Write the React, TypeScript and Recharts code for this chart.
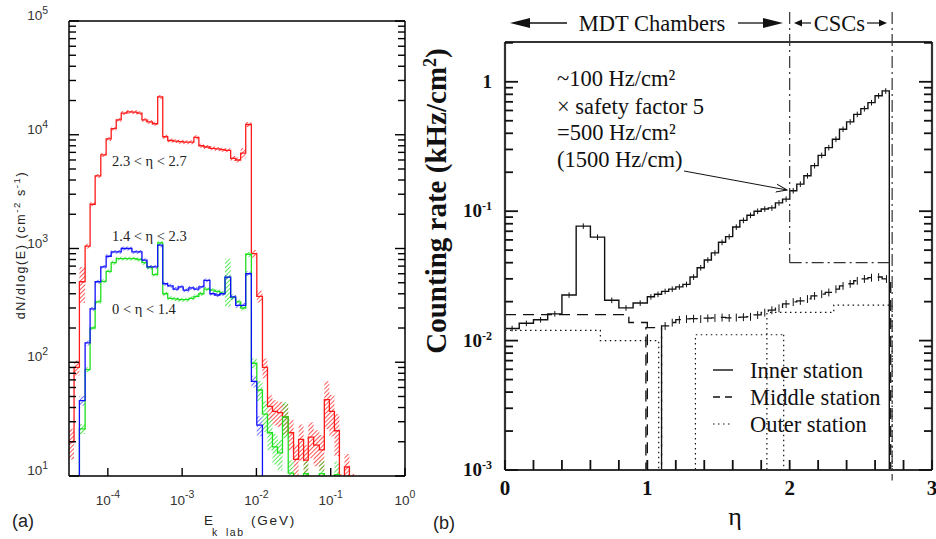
import React from 'react';
import { ComposedChart, Line, Area, XAxis, YAxis, ReferenceLine, ErrorBar } from 'recharts';

// ---------- panel (a): energy spectra, bins in log10(E / GeV) ----------
const logEnergyEdges = [
  -4.523, -4.455, -4.383, -4.306, -4.239, -4.171, -4.095, -4.023, -3.955, -3.887,
  -3.82, -3.743, -3.676, -3.608, -3.541, -3.473, -3.401, -3.329, -3.261, -3.194,
  -3.122, -3.054, -2.986, -2.91, -2.842, -2.775, -2.707, -2.626, -2.559, -2.491,
  -2.423, -2.347, -2.279, -2.212, -2.144, -2.068, -1.995, -1.919, -1.851, -1.784,
  -1.716, -1.649, -1.572, -1.5, -1.432, -1.365, -1.302, -1.23, -1.153, -1.086,
  -1.018, -0.95, -0.883, -0.815, -0.748, -0.68,
];

// 2.3 < eta < 2.7 (red)
const fluxHigh = [
  20, 90, 510, 1050, 2450, 4350, 6650, 9200, 11300, 13500,
  15500, 15900, 15800, 15500, 13500, 13000, 12500, 21500, 9600, 8900,
  8800, 8700, 8600, 8600, 9500, 8000, 7800, 7600, 7500, 7400,
  7300, 6200, 6000, 6900, 12300, 900, 380, 90, 41, 37,
  36, 33, 24, 14, 21, 13.8, 22, 18.7, 17, 47,
  37, 25, 8, 12, 8,
];
const errHigh = [
  0.3, 0.15, 0.35, 0.05, 0.04, 0.04, 0.04, 0.04, 0.04, 0.04,
  0.04, 0.04, 0.04, 0.04, 0.04, 0.04, 0.04, 0.04, 0.04, 0.04,
  0.04, 0.04, 0.04, 0.04, 0.04, 0.04, 0.04, 0.04, 0.04, 0.04,
  0.04, 0.05, 0.05, 0.1, 0.05, 0.08, 0.12, 0.2, 0.25, 0.25,
  0.25, 0.3, 0.3, 0.35, 0.35, 0.35, 0.35, 0.35, 0.35, 0.45,
  0.4, 0.4, 0.3, 0.3, 0.3,
];

// 1.4 < eta < 2.3 (blue)
const fluxMid = [
  1, 1, 46, 148, 295, 510, 690, 855, 935, 935,
  1000, 1000, 935, 935, 790, 690, 690, 1070, 490, 470,
  440, 460, 430, 450, 440, 460, 525, 400, 390, 400,
  560, 375, 316, 316, 600, 68, 28, 1, 1, 1,
  1, 1, 1, 1, 1, 1, 1, 1, 1, 1,
  1, 1, 1, 1, 1,
];
const errMid = [
  0, 0, 0.1, 0.05, 0.04, 0.04, 0.04, 0.04, 0.04, 0.04,
  0.04, 0.04, 0.04, 0.04, 0.04, 0.04, 0.04, 0.04, 0.04, 0.04,
  0.04, 0.04, 0.04, 0.04, 0.04, 0.04, 0.04, 0.04, 0.04, 0.04,
  0.04, 0.05, 0.05, 0.05, 0.05, 0.12, 0.2, 0, 0, 0,
  0, 0, 0, 0, 0, 0, 0, 0, 0, 0,
  0, 0, 0, 0, 0,
];

// 0 < eta < 1.4 (green)
const fluxLow = [
  1, 1, 26, 86, 200, 340, 515, 630, 750, 815,
  815, 815, 815, 800, 750, 680, 590, 1120, 400, 365,
  360, 355, 355, 365, 380, 400, 440, 430, 420, 405,
  560, 370, 340, 300, 890, 98, 57, 35, 24, 18,
  16, 33, 10.6, 7, 7, 10.5, 7, 7, 10.5, 7,
  7, 10.3, 7, 7, 7,
];
const errLow = [
  0, 0, 0.1, 0.05, 0.04, 0.04, 0.04, 0.04, 0.04, 0.04,
  0.04, 0.04, 0.04, 0.04, 0.04, 0.04, 0.04, 0.04, 0.04, 0.04,
  0.04, 0.04, 0.04, 0.04, 0.04, 0.04, 0.04, 0.04, 0.04, 0.04,
  0.45, 0.05, 0.05, 0.05, 0.05, 0.1, 0.2, 0.3, 0.3, 0.3,
  0.3, 0.35, 0.3, 0.3, 0.3, 0.3, 0.3, 0.3, 0.3, 0.3,
  0.3, 0.3, 0.3, 0.3, 0.3,
];

const energyTicks = [1e-4, 1e-3, 1e-2, 1e-1, 1];
const fluxTicks = [
  10, 20, 30, 40, 50, 60, 70, 80, 90,
  100, 200, 300, 400, 500, 600, 700, 800, 900,
  1000, 2000, 3000, 4000, 5000, 6000, 7000, 8000, 9000,
  10000, 20000, 30000, 40000, 50000, 60000, 70000, 80000, 90000, 100000,
];

// ---------- panel (b): counting rate vs eta ----------
const innerEdges = [
  0, 0.1, 0.2, 0.3, 0.4, 0.5, 0.6, 0.7, 0.8, 0.9, 1.0, 1.05, 1.1, 1.15, 1.2, 1.25,
  1.3, 1.35, 1.4, 1.45, 1.5, 1.55, 1.6, 1.65, 1.7, 1.75, 1.8, 1.85, 1.9, 1.95, 2.0,
  2.05, 2.1, 2.15, 2.2, 2.25, 2.3, 2.35, 2.4, 2.45, 2.5, 2.55, 2.6, 2.65, 2.7,
];
const innerRate = [
  0.0124, 0.0136, 0.0145, 0.0161, 0.0225, 0.0767, 0.063, 0.0205, 0.0179, 0.0195,
  0.0218, 0.0228, 0.024, 0.025, 0.026, 0.0272, 0.031, 0.0366, 0.042, 0.0476,
  0.0575, 0.0636, 0.0754, 0.085, 0.093, 0.1, 0.104, 0.106, 0.116, 0.124,
  0.144, 0.162, 0.188, 0.225, 0.27, 0.31, 0.36, 0.43, 0.49, 0.56,
  0.62, 0.69, 0.78, 0.85,
];

const middleEdgesA = [0, 0.87, 1.0];
const middleRateA = [0.0159, 0.0138];
const middleEdgesC = [0.99, 1.1];
const middleRateC = [0.0126];
const middleEdgesB = [
  1.1, 1.15, 1.2, 1.25, 1.3, 1.35, 1.4, 1.45, 1.5, 1.55, 1.6, 1.65, 1.7, 1.75, 1.8,
  1.85, 1.9, 1.95, 2.0, 2.05, 2.1, 2.15, 2.2, 2.25, 2.3, 2.35, 2.4, 2.45, 2.5, 2.55,
  2.6, 2.65, 2.71,
];
const middleRateB = [
  0.013, 0.0138, 0.0145, 0.0147, 0.0148, 0.0147, 0.0149, 0.015, 0.0151, 0.015,
  0.0151, 0.0152, 0.0153, 0.0158, 0.0165, 0.0172, 0.0178, 0.0192, 0.0199, 0.0203,
  0.021, 0.0222, 0.0229, 0.0236, 0.025, 0.0265, 0.0275, 0.029, 0.03, 0.0307,
  0.031, 0.03,
];
// statistical error bars drawn at bin centres (relative half-height)
const statErrInner = 0.05;
const statErrMiddle = 0.07;

const outerEdgesA = [0, 0.67, 1.08];
const outerRateA = [0.012, 0.01];
const outerEdgesB = [1.338, 1.958];
const outerRateB = [0.0111];
const outerEdgesC = [1.84, 2.31, 2.72];
const outerRateC = [0.0165, 0.0188];

const etaTicks = [0, 0.2, 0.4, 0.6, 0.8, 1, 1.2, 1.4, 1.6, 1.8, 2, 2.2, 2.4, 2.6, 2.8, 3];
const rateTicks = [
  0.001, 0.002, 0.003, 0.004, 0.005, 0.006, 0.007, 0.008, 0.009,
  0.01, 0.02, 0.03, 0.04, 0.05, 0.06, 0.07, 0.08, 0.09,
  0.1, 0.2, 0.3, 0.4, 0.5, 0.6, 0.7, 0.8, 0.9, 1, 2,
];

const RED = '#ff1a1a';
const BLUE = '#1010ff';
const GREEN = '#1fe01f';
const LOW = 1e-4;
const SERIF = '"Liberation Serif", "Times New Roman", serif';
const SANS = '"Liberation Sans", Arial, sans-serif';

const rowsA = logEnergyEdges.map((le, i) => {
  const k = Math.min(i, fluxHigh.length - 1);
  return {
    e: Math.pow(10, le),
    high: fluxHigh[k],
    highBand: [fluxHigh[k] * (1 - errHigh[k]), fluxHigh[k] * (1 + errHigh[k])],
    mid: fluxMid[k],
    midBand: [fluxMid[k] * (1 - errMid[k]), fluxMid[k] * (1 + errMid[k])],
    low: fluxLow[k],
    lowBand: [fluxLow[k] * (1 - errLow[k]), fluxLow[k] * (1 + errLow[k])],
  };
});

type Pt = { x: number; y: number };
function stepPoints(edges: number[], rates: number[], riseFromFloor: boolean): Pt[] {
  const pts: Pt[] = [];
  if (riseFromFloor) pts.push({ x: edges[0], y: LOW });
  edges.forEach((x, i) => pts.push({ x, y: rates[Math.min(i, rates.length - 1)] }));
  pts.push({ x: edges[edges.length - 1], y: LOW });
  return pts;
}
function binCentres(edges: number[], rates: number[], rel: number) {
  return rates.map((r, i) => ({ x: (edges[i] + edges[i + 1]) / 2, y: r, err: r * rel }));
}

const isDecade = (v: number) => {
  const p = Math.log10(v);
  return Math.abs(p - Math.round(p)) < 1e-6;
};

// ----- tick renderers -----
const TickALeft = (props: any) => {
  const { x, y, payload } = props;
  const v = payload.value;
  const major = isDecade(v);
  return (
    <g>
      <line x1={x} x2={x + (major ? 10 : 7)} y1={y} y2={y} stroke="#000" strokeWidth={1.4} />
      {major && (
        <text x={x - 21} y={y - 1} textAnchor="end" fontFamily={SANS} fontSize={13.5} fill="#333">
          10<tspan dy={-6} fontSize={10.5}>{Math.round(Math.log10(v))}</tspan>
        </text>
      )}
    </g>
  );
};
const TickARight = (props: any) => {
  const { x, y, payload } = props;
  const major = isDecade(payload.value);
  return <line x1={x} x2={x - (major ? 10 : 7)} y1={y} y2={y} stroke="#000" strokeWidth={1.4} />;
};
const TickABottom = (props: any) => {
  const { x, y, payload } = props;
  return (
    <g>
      <line x1={x} x2={x} y1={y} y2={y - 8} stroke="#000" strokeWidth={1.4} />
      <text x={x} y={y + 29} textAnchor="middle" fontFamily={SANS} fontSize={13.5} fill="#333">
        10<tspan dy={-7} fontSize={10.5}>{Math.round(Math.log10(payload.value))}</tspan>
      </text>
    </g>
  );
};
const TickATop = (props: any) => {
  const { x, y } = props;
  return <line x1={x} x2={x} y1={y} y2={y + 8} stroke="#000" strokeWidth={1.4} />;
};

const TickBLeft = (props: any) => {
  const { x, y, payload } = props;
  const v = payload.value;
  const major = isDecade(v);
  const e = Math.round(Math.log10(v));
  return (
    <g>
      <line x1={x} x2={x + (major ? 13 : 8)} y1={y} y2={y} stroke="#111" strokeWidth={1.8} />
      {major && (
        <text x={x - 13} y={y + 6} textAnchor="end" fontFamily={SERIF} fontWeight="bold" fontSize={19} fill="#111">
          {e === 0 ? '1' : (
            <>
              10<tspan dy={-7} fontSize={12}>{e}</tspan>
            </>
          )}
        </text>
      )}
    </g>
  );
};
const TickBRight = (props: any) => {
  const { x, y, payload } = props;
  const major = isDecade(payload.value);
  return <line x1={x} x2={x - (major ? 13 : 8)} y1={y} y2={y} stroke="#111" strokeWidth={1.8} />;
};
const TickBBottom = (props: any) => {
  const { x, y, payload } = props;
  const v = payload.value;
  const major = Math.abs(v - Math.round(v)) < 1e-6;
  return (
    <g>
      <line x1={x} x2={x} y1={y} y2={y - 10} stroke="#111" strokeWidth={1.8} />
      {major && (
        <text x={x} y={y + 25} textAnchor="middle" fontFamily={SERIF} fontWeight="bold" fontSize={21} fill="#111">
          {Math.round(v)}
        </text>
      )}
    </g>
  );
};
const TickBTop = (props: any) => {
  const { x, y } = props;
  return <line x1={x} x2={x} y1={y} y2={y + 8} stroke="#111" strokeWidth={1.8} />;
};

const SpectraPanel = () => (
  <ComposedChart width={420} height={539} data={rowsA} margin={{ top: 0, right: 0, bottom: 0, left: 0 }}>
    <XAxis
      dataKey="e" type="number" scale="log" domain={[Math.pow(10, -4.523), 1]} allowDataOverflow
      ticks={energyTicks} interval={0} tickSize={0} tickMargin={0} tickLine={false}
      tick={TickABottom} height={63} axisLine={{ stroke: '#000', strokeWidth: 1.5 }}
    />
    <XAxis
      xAxisId="top" orientation="top" type="number" scale="log" domain={[Math.pow(10, -4.523), 1]} allowDataOverflow
      ticks={energyTicks} interval={0} tickSize={0} tickMargin={0} tickLine={false}
      tick={TickATop} height={21} axisLine={{ stroke: '#000', strokeWidth: 1.5 }}
    />
    <YAxis
      type="number" scale="log" domain={[10, 100000]} allowDataOverflow ticks={fluxTicks} interval={0}
      tickSize={0} tickMargin={0} tickLine={false} tick={TickALeft} width={69}
      axisLine={{ stroke: '#000', strokeWidth: 1.5 }}
    />
    <YAxis
      yAxisId="right" orientation="right" type="number" scale="log" domain={[10, 100000]} allowDataOverflow
      ticks={fluxTicks} interval={0} tickSize={0} tickMargin={0} tickLine={false} tick={TickARight} width={15}
      axisLine={{ stroke: '#000', strokeWidth: 1.5 }}
    />
    <Area dataKey="highBand" type="stepAfter" stroke="none" fill="url(#hatchRed)" fillOpacity={1} isAnimationActive={false} dot={false} activeDot={false} />
    <Line dataKey="high" type="stepAfter" stroke={RED} strokeWidth={1.3} dot={false} activeDot={false} isAnimationActive={false} />
    <Area dataKey="lowBand" type="stepAfter" stroke="none" fill="url(#hatchGreen)" fillOpacity={1} isAnimationActive={false} dot={false} activeDot={false} />
    <Line dataKey="low" type="stepAfter" stroke={GREEN} strokeWidth={1.3} dot={false} activeDot={false} isAnimationActive={false} />
    <Area dataKey="midBand" type="stepAfter" stroke="none" fill="url(#hatchBlue)" fillOpacity={1} isAnimationActive={false} dot={false} activeDot={false} />
    <Line dataKey="mid" type="stepAfter" stroke={BLUE} strokeWidth={1.3} dot={false} activeDot={false} isAnimationActive={false} />
  </ComposedChart>
);

const dashDot = '12 4 2 4';

const RatePanel = () => (
  <ComposedChart width={516} height={539} margin={{ top: 0, right: 0, bottom: 0, left: 0 }}>
    <XAxis
      dataKey="x" type="number" domain={[0, 3]} allowDataOverflow ticks={etaTicks} interval={0}
      tickSize={0} tickMargin={0} tickLine={false} tick={TickBBottom} height={69}
      axisLine={{ stroke: '#333', strokeWidth: 2.2 }}
    />
    <XAxis
      xAxisId="top" orientation="top" type="number" domain={[0, 3]} allowDataOverflow ticks={etaTicks} interval={0}
      tickSize={0} tickMargin={0} tickLine={false} tick={TickBTop} height={42}
      axisLine={{ stroke: '#333', strokeWidth: 2.2 }}
    />
    <YAxis
      type="number" scale="log" domain={[0.001, 2.03]} allowDataOverflow ticks={rateTicks} interval={0}
      tickSize={0} tickMargin={0} tickLine={false} tick={TickBLeft} width={85}
      axisLine={{ stroke: '#333', strokeWidth: 2.2 }}
    />
    <YAxis
      yAxisId="right" orientation="right" type="number" scale="log" domain={[0.001, 2.03]} allowDataOverflow
      ticks={rateTicks} interval={0} tickSize={0} tickMargin={0} tickLine={false} tick={TickBRight} width={4}
      axisLine={{ stroke: '#333', strokeWidth: 2.2 }}
    />
    <Line data={stepPoints(innerEdges, innerRate, false)} dataKey="y" type="stepAfter" stroke="#111" strokeWidth={1.4} dot={false} activeDot={false} isAnimationActive={false} />
    <Line data={binCentres(innerEdges, innerRate, statErrInner)} dataKey="y" stroke="none" dot={false} activeDot={false} isAnimationActive={false}>
      <ErrorBar dataKey="err" direction="y" width={0} stroke="#111" strokeWidth={1} />
    </Line>
    <Line data={stepPoints(middleEdgesA, middleRateA, false)} dataKey="y" type="stepAfter" stroke="#111" strokeWidth={1.3} strokeDasharray="11 7" dot={false} activeDot={false} isAnimationActive={false} />
    <Line data={stepPoints(middleEdgesC, middleRateC, true)} dataKey="y" type="stepAfter" stroke="#111" strokeWidth={1.3} strokeDasharray="11 7" dot={false} activeDot={false} isAnimationActive={false} />
    <Line data={stepPoints(middleEdgesB, middleRateB, true)} dataKey="y" type="stepAfter" stroke="#111" strokeWidth={1.3} strokeDasharray="11 7" dot={false} activeDot={false} isAnimationActive={false} />
    <Line data={binCentres(middleEdgesB, middleRateB, statErrMiddle)} dataKey="y" stroke="none" dot={false} activeDot={false} isAnimationActive={false}>
      <ErrorBar dataKey="err" direction="y" width={0} stroke="#111" strokeWidth={1} />
    </Line>
    <Line data={stepPoints(outerEdgesA, outerRateA, false)} dataKey="y" type="stepAfter" stroke="#111" strokeWidth={1.2} strokeDasharray="1.5 3.5" dot={false} activeDot={false} isAnimationActive={false} />
    <Line data={stepPoints(outerEdgesB, outerRateB, true)} dataKey="y" type="stepAfter" stroke="#111" strokeWidth={1.2} strokeDasharray="1.5 3.5" dot={false} activeDot={false} isAnimationActive={false} />
    <Line data={stepPoints(outerEdgesC, outerRateC, true)} dataKey="y" type="stepAfter" stroke="#111" strokeWidth={1.2} strokeDasharray="1.5 3.5" dot={false} activeDot={false} isAnimationActive={false} />
    <ReferenceLine segment={[{ x: 2, y: 3.46 }, { x: 2, y: 0.04 }]} ifOverflow="visible" stroke="#333" strokeWidth={1.2} strokeDasharray={dashDot} />
    <ReferenceLine segment={[{ x: 2, y: 0.04 }, { x: 2.72, y: 0.04 }]} ifOverflow="visible" stroke="#333" strokeWidth={1.2} strokeDasharray={dashDot} />
    <ReferenceLine segment={[{ x: 2.72, y: 3.46 }, { x: 2.72, y: 0.00083 }]} ifOverflow="visible" stroke="#333" strokeWidth={1.2} strokeDasharray={dashDot} />
  </ComposedChart>
);

const Overlay = () => (
  <svg width={936} height={539} style={{ position: 'absolute', left: 0, top: 0, pointerEvents: 'none' }}>
    <defs>
      <pattern id="hatchRed" patternUnits="userSpaceOnUse" width={3} height={3} patternTransform="rotate(45)">
        <line x1={0} y1={0} x2={0} y2={3} stroke={RED} strokeWidth={1.5} />
      </pattern>
      <pattern id="hatchGreen" patternUnits="userSpaceOnUse" width={3} height={3} patternTransform="rotate(45)">
        <line x1={0} y1={0} x2={0} y2={3} stroke={GREEN} strokeWidth={1.5} />
      </pattern>
      <pattern id="hatchBlue" patternUnits="userSpaceOnUse" width={3} height={3} patternTransform="rotate(45)">
        <line x1={0} y1={0} x2={0} y2={3} stroke={BLUE} strokeWidth={1.2} />
      </pattern>
      <marker id="openHead" markerWidth={12} markerHeight={10} refX={11} refY={5} orient="auto" markerUnits="userSpaceOnUse">
        <path d="M0,1 L11,5 L0,9" fill="none" stroke="#111" strokeWidth={1} />
      </marker>
    </defs>

    {/* panel (a) texts */}
    <text x={112} y={166} fontFamily={SERIF} fontSize={14.5} fill="#222">2.3 &lt; η &lt; 2.7</text>
    <text x={112} y={241} fontFamily={SERIF} fontSize={14.5} fill="#222">1.4 &lt; η &lt; 2.3</text>
    <text x={112} y={314} fontFamily={SERIF} fontSize={14.5} fill="#222">0 &lt; η &lt; 1.4</text>
    <text transform="translate(25,245) rotate(-90)" textAnchor="middle" fontFamily={SANS} fontSize={12.5} letterSpacing={1.6} fill="#222">
      dN/dlog(E) (cm<tspan dy={-5} fontSize={9.5}>-2</tspan><tspan dy={5}> s</tspan><tspan dy={-5} fontSize={9.5}>-1</tspan><tspan dy={5}>)</tspan>
    </text>
    <text x={204} y={525} fontFamily={SANS} fontSize={13.5} fill="#222">E</text>
    <text x={212} y={536} fontFamily={SANS} fontSize={10.5} fill="#222">k</text>
    <text x={226} y={536} fontFamily={SANS} fontSize={10.5} letterSpacing={1.5} fill="#222">lab</text>
    <text x={251} y={525} fontFamily={SANS} fontSize={13.5} letterSpacing={1.8} fill="#222">(GeV)</text>
    <text x={12} y={527} fontFamily={SANS} fontSize={18} fill="#222">(a)</text>

    {/* panel (b) header */}
    <path d="M510,23 L530,18 L530,28 Z" fill="#111" />
    <line x1={530} y1={23} x2={567} y2={23} stroke="#111" strokeWidth={1.3} />
    <text x={652} y={31} textAnchor="middle" fontFamily={SERIF} fontSize={22.5} fill="#111">MDT Chambers</text>
    <line x1={738} y1={23} x2={763} y2={23} stroke="#111" strokeWidth={1.3} />
    <path d="M783,23 L763,18 L763,28 Z" fill="#111" />
    <path d="M794,23 L802,19.5 L802,26.5 Z" fill="#111" />
    <line x1={802} y1={23} x2={811} y2={23} stroke="#111" strokeWidth={1.2} />
    <text x={839.5} y={31} textAnchor="middle" fontFamily={SERIF} fontSize={22.5} fill="#111">CSCs</text>
    <line x1={867} y1={23} x2={879} y2={23} stroke="#111" strokeWidth={1.2} />
    <path d="M887,23 L879,19.5 L879,26.5 Z" fill="#111" />

    {/* panel (b) annotation */}
    <text x={557} y={86} fontFamily={SERIF} fontSize={22.5} fill="#111">~100 Hz/cm²</text>
    <text x={557} y={114} fontFamily={SERIF} fontSize={22.5} fill="#111">× safety factor 5</text>
    <text x={557} y={140} fontFamily={SERIF} fontSize={22.5} fill="#111">=500 Hz/cm²</text>
    <text x={557} y={167} fontFamily={SERIF} fontSize={22.5} fill="#111">(1500 Hz/cm)</text>
    <line x1={684} y1={171} x2={787} y2={190} stroke="#111" strokeWidth={1} markerEnd="url(#openHead)" />

    {/* panel (b) legend */}
    <line x1={713} y1={370} x2={733} y2={370} stroke="#111" strokeWidth={1.4} />
    <text x={750} y={378} fontFamily={SERIF} fontSize={22.5} fill="#111">Inner station</text>
    <line x1={713} y1={397} x2={733} y2={397} stroke="#111" strokeWidth={1.3} strokeDasharray="7 5" />
    <text x={750} y={405} fontFamily={SERIF} fontSize={22.5} fill="#111">Middle station</text>
    <line x1={713} y1={424} x2={733} y2={424} stroke="#111" strokeWidth={1.2} strokeDasharray="1.5 3.5" />
    <text x={750} y={432} fontFamily={SERIF} fontSize={22.5} fill="#111">Outer station</text>

    {/* panel (b) axis titles */}
    <text transform="translate(446,201) rotate(-90)" textAnchor="middle" fontFamily={SERIF} fontWeight="bold" fontSize={29} fill="#111">
      Counting rate (kHz/cm<tspan dy={-10} fontSize={18}>2</tspan><tspan dy={10}>)</tspan>
    </text>
    <text x={735} y={525} textAnchor="middle" fontFamily={SERIF} fontSize={26} fill="#111">η</text>
    <text x={433} y={529} fontFamily={SANS} fontSize={18} fill="#222">(b)</text>
  </svg>
);

export default function App() {
  return (
    <div style={{ position: 'absolute', left: 0, top: 0, width: 936, height: 539, background: '#fff', overflow: 'hidden' }}>
      <div style={{ position: 'absolute', left: 0, top: 0 }}>
        <SpectraPanel />
      </div>
      <div style={{ position: 'absolute', left: 420, top: 0 }}>
        <RatePanel />
      </div>
      <Overlay />
    </div>
  );
}
